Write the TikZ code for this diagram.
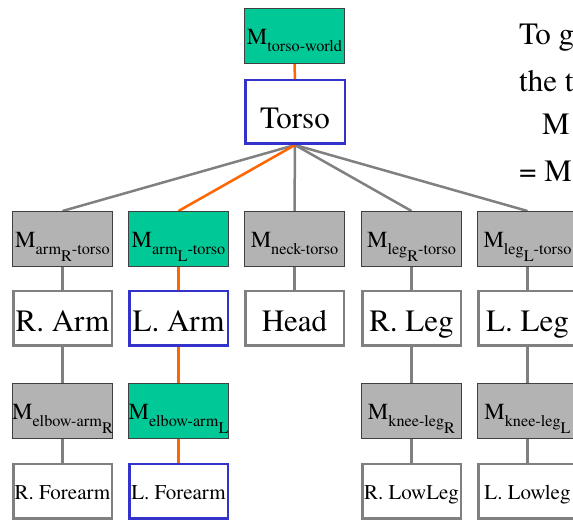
\documentclass[tikz,border=0pt]{standalone}
\usepackage{fontspec}
\setmainfont{texgyretermes-regular.otf}
\usetikzlibrary{backgrounds}
\definecolor{tealfill}{HTML}{00C896}
\definecolor{grayfill}{HTML}{B3B3B3}
\definecolor{grayline}{HTML}{808080}
\definecolor{blueline}{HTML}{3333CC}
\definecolor{orangeline}{HTML}{FF6600}
\definecolor{mborder}{HTML}{404040}
\newcommand{\Mlab}[1]{{\fontsize{23}{23}\selectfont M}\raisebox{-7pt}{\fontsize{16.2}{16.2}\selectfont #1}}
\newcommand{\sslow}[1]{\raisebox{-7pt}{#1}}
\begin{document}
\begin{tikzpicture}[x=1pt,y=-1pt,
  mbox/.style={draw=mborder, line width=1pt, minimum width=100pt, minimum height=55pt, inner sep=0pt, text height=17.5pt, text depth=0pt},
  mgray/.style={mbox, fill=grayfill},
  mteal/.style={mbox, fill=tealfill},
  body/.style={draw=grayline, fill=white, line width=2.5pt, minimum width=98.5pt, minimum height=54.5pt, inner sep=0pt, font=\fontsize{31}{31}\selectfont, text height=25pt, text depth=0pt},
  bodyblue/.style={body, draw=blueline},
  smalltext/.style={font=\fontsize{21}{21}\selectfont, text height=16pt},
  gedge/.style={draw=grayline, line width=2.5pt},
  oedge/.style={draw=orangeline, line width=2.5pt},
  rtext/.style={anchor=base west, inner sep=0pt, font=\fontsize{31}{31}\selectfont}]
\useasboundingbox (0,0) rectangle (573,521);
\clip (0,0) rectangle (573,521);
% top
\node[mteal] (tw) at (294.5,36) {\Mlab{torso-world}};
\node[bodyblue, minimum width=99.5pt, minimum height=63.5pt, text height=34pt] (torso) at (295,112) {Torso};
% row 2
\node[mgray] (mar) at (62.5,239) {\Mlab{arm\sslow{R}-torso}};
\node[mteal] (mal) at (178.5,239) {\Mlab{arm\sslow{L}-torso}};
\node[mgray] (mn) at (294.5,239) {\Mlab{neck-torso}};
\node[mgray] (mlr) at (411.5,239) {\Mlab{leg\sslow{R}-torso}};
\node[mgray] (mll) at (527.5,239) {\Mlab{leg\sslow{L}-torso}};
% row 3
\node[body] (rarm) at (62.5,318.5) {R. Arm};
\node[bodyblue] (larm) at (178.5,318.5) {L. Arm};
\node[body] (head) at (294.5,318.5) {Head};
\node[body] (rleg) at (411.5,318.5) {R. Leg};
\node[body] (lleg) at (527.5,318.5) {L. Leg};
% row 4
\node[mgray] (mer) at (62.5,411) {\Mlab{elbow-arm\sslow{R}}};
\node[mteal] (mel) at (178.5,411) {\Mlab{elbow-arm\sslow{L}}};
\node[mgray] (mkr) at (411.5,411) {\Mlab{knee-leg\sslow{R}}};
\node[mgray] (mkl) at (527.5,411) {\Mlab{knee-leg\sslow{L}}};
% row 5
\node[body, smalltext] (rfa) at (62.5,491) {R. Forearm};
\node[bodyblue, smalltext] (lfa) at (178.5,491) {L. Forearm};
\node[body, smalltext] (rll) at (411.5,491) {R. LowLeg};
\node[body, smalltext] (lll) at (527.5,491) {L. Lowleg};
% right text
\node[rtext] (t1) at (519,45) {To g};
\node[rtext] (t2) at (519,92) {the t};
\node[rtext] (t3) at (542,135) {M};
\node[rtext] (t4) at (519,182) {= M};
% edges
\begin{scope}[on background layer]
\draw[oedge] (tw.south) -- (torso.north);
\draw[gedge] (torso.south) -- (mar.north);
\draw[gedge] (torso.south) -- (mn.north);
\draw[gedge] (torso.south) -- (mlr.north);
\draw[gedge] (torso.south) -- (mll.north);
\draw[oedge] (torso.south) -- (mal.north);
\draw[gedge] (mar.south) -- (rarm.north);
\draw[oedge] (mal.south) -- (larm.north);
\draw[gedge] (mn.south) -- (head.north);
\draw[gedge] (mlr.south) -- (rleg.north);
\draw[gedge] (mll.south) -- (lleg.north);
\draw[gedge] (rarm.south) -- (mer.north);
\draw[oedge] (larm.south) -- (mel.north);
\draw[gedge] (rleg.south) -- (mkr.north);
\draw[gedge] (lleg.south) -- (mkl.north);
\draw[gedge] (mer.south) -- (rfa.north);
\draw[oedge] (mel.south) -- (lfa.north);
\draw[gedge] (mkr.south) -- (rll.north);
\draw[gedge] (mkl.south) -- (lll.north);
\end{scope}
\end{tikzpicture}
\end{document}
